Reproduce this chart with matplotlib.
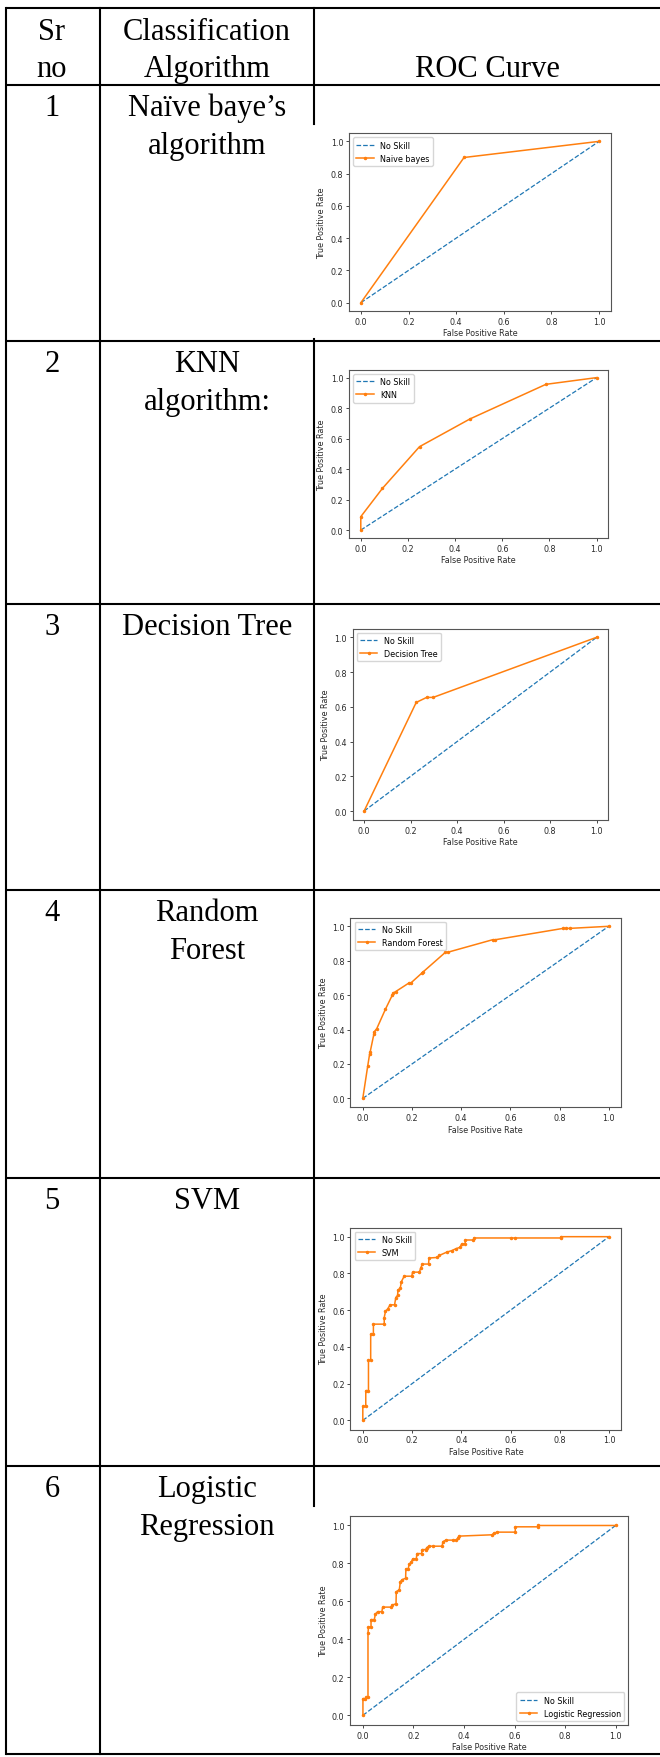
import matplotlib.pyplot as plt

# table text
sr_no = ['1', '2', '3', '4', '5', '6']
algo_names = [['Naïve baye’s', 'algorithm'], ['KNN', 'algorithm:'], ['Decision Tree'],
              ['Random', 'Forest'], ['SVM'], ['Logistic', 'Regression']]
legend_names = ['Naive bayes', 'KNN', 'Decision Tree', 'Random Forest', 'SVM', 'Logistic Regression']

# ROC curves
nb_fpr = [0, 0.433, 1]
nb_tpr = [0, 0.90, 1]

knn_fpr = [0, 0, 0.092, 0.249, 0.463, 0.785, 1]
knn_tpr = [0, 0.088, 0.274, 0.547, 0.729, 0.956, 1]

dt_fpr = [0, 0.224, 0.269, 0.297, 1]
dt_tpr = [0, 0.625, 0.654, 0.654, 1]

rf_fpr = [0, 0.020, 0.028, 0.030, 0.045, 0.046, 0.057, 0.092, 0.120, 0.123, 0.134, 0.187,
          0.195, 0.240, 0.246, 0.336, 0.345, 0.528, 0.539, 0.815, 0.825, 0.842, 1]
rf_tpr = [0, 0.188, 0.260, 0.270, 0.373, 0.386, 0.406, 0.518, 0.600, 0.612, 0.621, 0.670,
          0.670, 0.728, 0.736, 0.849, 0.849, 0.922, 0.922, 0.988, 0.988, 0.988, 1]

svm_fpr = [0, 0, 0.012, 0.012, 0.023, 0.023, 0.032, 0.032, 0.043, 0.043, 0.087, 0.087, 0.092,
           0.101, 0.111, 0.129, 0.134, 0.141, 0.143, 0.152, 0.157, 0.168, 0.199, 0.202, 0.230,
           0.235, 0.242, 0.267, 0.269, 0.303, 0.311, 0.341, 0.361, 0.379, 0.395, 0.401, 0.415,
           0.417, 0.449, 0.452, 0.601, 0.618, 0.804, 0.804, 1]
svm_tpr = [0, 0.076, 0.076, 0.162, 0.162, 0.327, 0.327, 0.469, 0.469, 0.524, 0.524, 0.560, 0.593,
           0.607, 0.629, 0.629, 0.669, 0.680, 0.709, 0.720, 0.756, 0.785, 0.785, 0.807, 0.807,
           0.829, 0.851, 0.851, 0.884, 0.887, 0.898, 0.916, 0.924, 0.935, 0.942, 0.960, 0.960,
           0.982, 0.982, 0.993, 0.993, 0.993, 0.993, 1.0, 1]

lr_fpr = [0, 0, 0.009, 0.013, 0.020, 0.020, 0.022, 0.032, 0.032, 0.045, 0.049, 0.058, 0.075,
          0.078, 0.111, 0.117, 0.131, 0.132, 0.144, 0.148, 0.156, 0.169, 0.170, 0.179, 0.183,
          0.191, 0.197, 0.211, 0.214, 0.232, 0.235, 0.248, 0.253, 0.261, 0.277, 0.313, 0.317,
          0.328, 0.356, 0.369, 0.375, 0.380, 0.511, 0.517, 0.530, 0.603, 0.603, 0.691, 0.694, 1]
lr_tpr = [0, 0.088, 0.088, 0.095, 0.095, 0.433, 0.465, 0.465, 0.504, 0.504, 0.532, 0.546, 0.546,
          0.570, 0.570, 0.581, 0.588, 0.651, 0.662, 0.704, 0.715, 0.722, 0.771, 0.771, 0.796,
          0.806, 0.824, 0.824, 0.852, 0.852, 0.873, 0.873, 0.884, 0.891, 0.891, 0.891, 0.915,
          0.923, 0.923, 0.923, 0.933, 0.944, 0.951, 0.958, 0.965, 0.965, 0.993, 0.993, 1.0, 1]

curves = [(nb_fpr, nb_tpr), (knn_fpr, knn_tpr), (dt_fpr, dt_tpr),
          (rf_fpr, rf_tpr), (svm_fpr, svm_tpr), (lr_fpr, lr_tpr)]

W, H = 660, 1758
fig = plt.figure(figsize=(W / 100, H / 100), dpi=100)

# background axes in pixel coords for the table grid
bg = fig.add_axes([0, 0, 1, 1])
bg.set_xlim(0, W)
bg.set_ylim(H, 0)
bg.axis('off')

row_lines = [9.3, 85.7, 341.7, 605, 890.7, 1179, 1466.7, 1755]
for y in row_lines:
    bg.plot([6, W], [y, y], color='black', lw=1.5, solid_capstyle='butt')
for x in [6, 100]:
    bg.plot([x, x], [row_lines[0], row_lines[-1]], color='black', lw=1.5)
# third column line is hidden behind the first and last plot images
bg.plot([314, 314], [row_lines[0], 125], color='black', lw=1.5)
bg.plot([314, 314], [340, 1507], color='black', lw=1.5)

serif = dict(family='Liberation Serif', fontsize=22, ha='center', va='baseline', color='black')
bg.text(52, 40, 'Sr', **serif)
bg.text(52, 77, 'no', **serif)
bg.text(207, 40, 'Classification', **serif)
bg.text(207, 77, 'Algorithm', **serif)
bg.text(487, 77, 'ROC Curve', **serif)

for i in range(6):
    base = row_lines[i + 1] + 30
    bg.text(52, base, sr_no[i], **serif)
    for j, line in enumerate(algo_names[i]):
        bg.text(207, base + 38 * j, line, **serif)

# plot boxes in pixels: left, right, top, bottom
boxes = [(349, 611, 134.3, 311.7), (349, 608.4, 371, 538.7), (352.5, 608.3, 629.6, 820.7),
         (350.5, 621, 918.7, 1108), (350.5, 621.3, 1228.5, 1430.6), (350.3, 628.2, 1517, 1725.8)]

fs = 5.8
for i, (l, r, t, b) in enumerate(boxes):
    ax = fig.add_axes([l / W, 1 - b / H, (r - l) / W, (b - t) / H])
    ax.plot([0, 1], [0, 1], linestyle='--', color='#1f77b4', lw=0.9, label='No Skill')
    fpr, tpr = curves[i]
    ax.plot(fpr, tpr, marker='.', color='#ff7f0e', lw=1.1, markersize=3, label=legend_names[i])
    ax.set_xticks([0, 0.2, 0.4, 0.6, 0.8, 1.0])
    ax.set_yticks([0, 0.2, 0.4, 0.6, 0.8, 1.0])
    ax.tick_params(labelsize=fs, length=2.2, width=0.6, pad=2, colors='#2a2a2a')
    ax.set_xlabel('False Positive Rate', fontsize=fs, color='#2a2a2a', labelpad=2)
    ax.set_ylabel('True Positive Rate', fontsize=fs, color='#2a2a2a', labelpad=3)
    for s in ax.spines.values():
        s.set_color('#555555')
        s.set_linewidth(0.8)
    loc = 'lower right' if i == 5 else 'upper left'
    ax.legend(loc=loc, fontsize=fs, handlelength=2.2, borderaxespad=0.5)

fig.savefig('out.png', dpi=100)
